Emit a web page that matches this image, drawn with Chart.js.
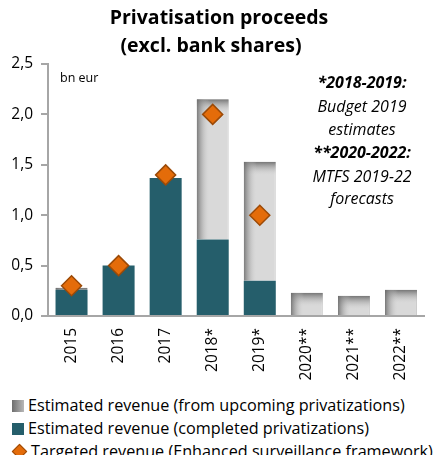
<!DOCTYPE html>
<html>
<head>
<meta charset="utf-8">
<script src="https://cdn.jsdelivr.net/npm/chart.js@4.4.1/dist/chart.umd.min.js"></script>
<style>
    body { margin: 0; background: #fff; font-family: "Open Sans", sans-serif; }
    #wrap { position: relative; width: 436px; height: 455px; overflow: hidden; }
    #chart-box { position: absolute; left: 0; top: 0; width: 436px; height: 392px; }
    #legend { position: absolute; left: 12px; top: 394px; font-size: 16.2px; color: #000; }
    #legend div { height: 23px; line-height: 23px; white-space: nowrap; }
    .key { display: inline-block; width: 12px; height: 12px; margin-right: 4px; vertical-align: -1px; }
    .key.upcoming { background: linear-gradient(to right, #6e6e6e, #b8b8b8); }
    .key.completed { background: #255e6b; }
    .key.target { width: 9px; height: 9px; margin: 0 6px 0 2px; background: #e46c0a; border: 1px solid #9c4a07; transform: rotate(45deg); vertical-align: 0; }
</style>
</head>
<body>
<div id="wrap">
    <div id="chart-box"><canvas id="proceeds"></canvas></div>
    <div id="legend"></div>
</div>
<script>
const years = ['2015', '2016', '2017', '2018*', '2019*', '2020**', '2021**', '2022**'];
const completed = [0.26, 0.50, 1.37, 0.76, 0.35, null, null, null];
const upcoming = [0.02, 0, 0, 1.39, 1.18, 0.23, 0.20, 0.26];
const targeted = [0.30, 0.50, 1.40, 2.00, 1.00, null, null, null];
const yTicks = ['0,0', '0,5', '1,0', '1,5', '2,0', '2,5'];

const seriesNames = [
    'Estimated revenue (from upcoming privatizations)',
    'Estimated revenue (completed privatizations)',
    'Targeted revenue (Enhanced surveillance framework)'
];

const FONT = '"Open Sans", sans-serif';
const TEAL = '#255e6b';
const ORANGE = '#e46c0a';
const AXIS = '#a6a6a6';

// shading on the grey bars: darker band along top and left edges
const barShade = {
    id: 'barShade',
    afterDatasetDraw(chart, args) {
        if (args.index !== 1) return;
        const ctx = chart.ctx;
        args.meta.data.forEach(bar => {
            const h = bar.base - bar.y;
            if (h <= 0) return;
            const left = bar.x - bar.width / 2;
            ctx.save();
            ctx.beginPath();
            ctx.rect(left, bar.y, bar.width, h);
            ctx.clip();
            let g = ctx.createLinearGradient(0, bar.y, 0, bar.y + 14);
            g.addColorStop(0, 'rgba(105,105,105,0.9)');
            g.addColorStop(1, 'rgba(217,217,217,0)');
            ctx.fillStyle = g;
            ctx.fillRect(left, bar.y, bar.width, 14);
            g = ctx.createLinearGradient(left, 0, left + 13, 0);
            g.addColorStop(0, 'rgba(105,105,105,0.85)');
            g.addColorStop(1, 'rgba(217,217,217,0)');
            ctx.fillStyle = g;
            ctx.fillRect(left, bar.y, 13, h);
            ctx.restore();
        });
    }
};

// title, unit and the source notes
const notes = {
    id: 'notes',
    afterDraw(chart) {
        const ctx = chart.ctx;
        ctx.save();
        ctx.fillStyle = '#000';
        ctx.textAlign = 'center';
        ctx.textBaseline = 'middle';
        ctx.font = 'bold 19.5px ' + FONT;
        ctx.fillText('Privatisation proceeds', 219, 18);
        ctx.fillText('(excl. bank shares)', 211, 46);

        ctx.textAlign = 'left';
        ctx.font = '12.5px ' + FONT;
        ctx.fillText('bn eur', 60, 78);

        ctx.textAlign = 'center';
        const lines = [
            ['*2018-2019:', true, 83],
            ['Budget 2019', false, 107],
            ['estimates', false, 130],
            ['**2020-2022:', true, 153],
            ['MTFS 2019-22', false, 177],
            ['forecasts', false, 199]
        ];
        lines.forEach(([t, bold, y]) => {
            ctx.font = 'italic ' + (bold ? 'bold ' : '') + '16px ' + FONT;
            ctx.fillText(t, 362, y);
        });
        ctx.restore();
    }
};

new Chart(document.getElementById('proceeds'), {
    type: 'bar',
    data: {
        labels: years,
        datasets: [
            {
                label: seriesNames[1],
                data: completed,
                backgroundColor: TEAL,
                stack: 'rev',
                order: 0
            },
            {
                label: seriesNames[0],
                data: upcoming,
                backgroundColor: '#d9d9d9',
                borderColor: '#c9c9c9',
                borderWidth: 1,
                stack: 'rev',
                order: 0
            },
            {
                type: 'line',
                label: seriesNames[2],
                data: targeted,
                showLine: false,
                pointStyle: 'rectRot',
                pointRadius: 10,
                pointHoverRadius: 10,
                pointBackgroundColor: ORANGE,
                pointBorderColor: '#9c4a07',
                pointBorderWidth: 1.5,
                stack: 'target',
                order: -1
            }
        ]
    },
    options: {
        responsive: true,
        maintainAspectRatio: false,
        animation: false,
        layout: { padding: { top: 64, right: 11, bottom: 6, left: 0 } },
        datasets: { bar: { categoryPercentage: 1, barPercentage: 0.68 } },
        plugins: {
            legend: { display: false },
            tooltip: { enabled: false }
        },
        scales: {
            x: {
                stacked: true,
                grid: { display: false, drawTicks: false },
                border: { display: true, color: AXIS, width: 2 },
                ticks: {
                    minRotation: 90,
                    maxRotation: 90,
                    padding: 12,
                    color: '#000',
                    font: { family: FONT, size: 15.5 }
                },
                afterFit: s => { s.height = 70; }
            },
            y: {
                stacked: true,
                min: 0,
                max: 2.5,
                grid: { drawOnChartArea: false, color: AXIS, lineWidth: 2, tickLength: 7 },
                border: { display: true, color: AXIS, width: 2 },
                ticks: {
                    stepSize: 0.5,
                    padding: 8,
                    color: '#000',
                    font: { family: FONT, size: 15.5 },
                    callback: (v, i) => yTicks[i]
                },
                afterFit: s => { s.width = 48; }
            }
        }
    },
    plugins: [barShade, notes]
});

// legend rows, grey series first
const keys = ['upcoming', 'completed', 'target'];
document.getElementById('legend').innerHTML = keys
    .map((k, i) => `<div><span class="key ${k}"></span>${seriesNames[i]}</div>`)
    .join('');
</script>
</body>
</html>
